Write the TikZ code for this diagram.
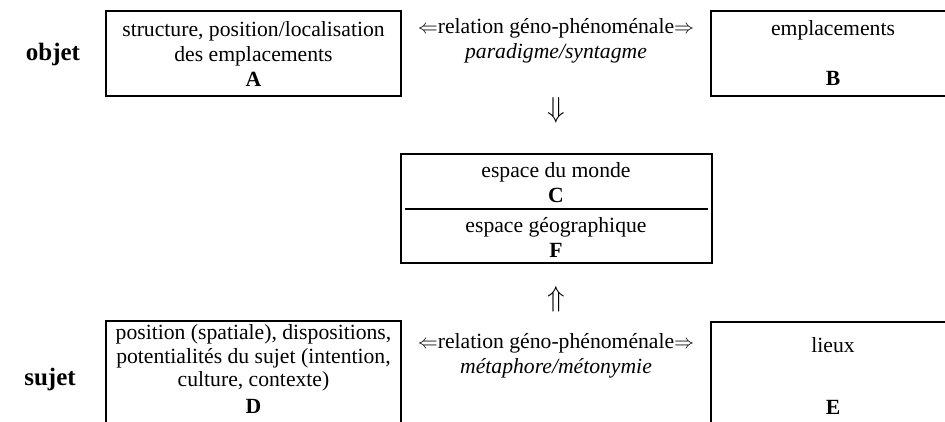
\documentclass[tikz,border=0pt]{standalone}
\usepackage{fontspec}
\setmainfont{Liberation Serif}
\usetikzlibrary{positioning}

\begin{document}
\begin{tikzpicture}[x=0.6pt,y=-0.6pt,every node/.style={align=center,inner sep=0pt,font=\fontsize{13}{15}\selectfont}]
\useasboundingbox (0,0) rectangle (945,421);
\clip (0,0) rectangle (945,421);

\foreach \n/\a/\b/\c/\d in {A/106/11/401/96,B/711/11/955/96,CF/401/154/712/263,D/106/321/401/440,E/711/322/955/440}
	\node[draw,line width=1.5pt,minimum width={(\c-\a)*0.6pt},minimum height={(\d-\b)*0.6pt}] (box\n) at ({(\a+\c)/2},{(\b+\d)/2}) {};
\draw[line width=1.2pt] ([xshift=3pt]boxCF.west) -- ([xshift=-3pt]boxCF.east);

\node[font=\fontsize{15}{18}\selectfont\bfseries] (objet) at (53,54) {objet};
\node[font=\fontsize{15}{18}\selectfont\bfseries] (sujet) at (50,379) {sujet};

\node (txtA) at (boxA) {structure, position/localisation\\des emplacements\\\textbf{A}};
\node (txtB) at (boxB) {emplacements\\[15pt]\textbf{B}};
\node (relAB) at (556,41) {$\Leftarrow$relation géno-phénoménale$\Rightarrow$\\\textit{paradigme/syntagme}};
\node[font=\fontsize{17}{17}\selectfont] (down) at (556,110) {$\Downarrow$};
\node (txtC) at (556,183) {espace du monde\\\textbf{C}};
\node (txtF) at (556,237) {espace géographique\\\textbf{F}};
\node[font=\fontsize{17}{17}\selectfont] (up) at (556,299) {$\Uparrow$};
\node[font=\fontsize{13}{14}\selectfont] (txtD) at (253.5,369) {position (spatiale), dispositions,\\potentialités du sujet (intention,\\culture, contexte)\\[2pt]\textbf{D}};
\node (relDE) at (556,356) {$\Leftarrow$relation géno-phénoménale$\Rightarrow$\\\textit{métaphore/métonymie}};
\node (txtE) at (833,376) {lieux\\[22pt]\textbf{E}};
\end{tikzpicture}
\end{document}
